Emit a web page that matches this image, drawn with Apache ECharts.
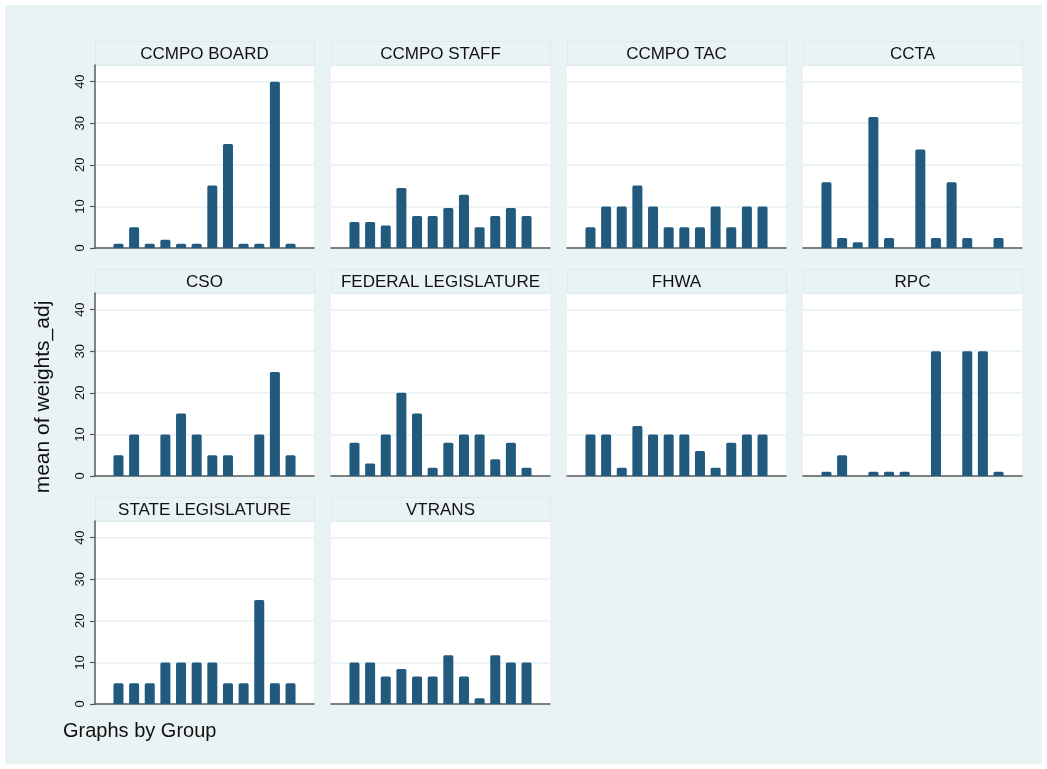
<!DOCTYPE html>
<html>
<head>
<meta charset="utf-8">
<script src="https://cdn.jsdelivr.net/npm/echarts@6/dist/echarts.min.js"></script>
<style>
  html, body { margin: 0; padding: 0; background: #fff; }
  #chart { position: absolute; left: 5px; top: 5px; width: 1037px; height: 759px; }
</style>
</head>
<body>
<div id="chart"></div>
<script>
// bar positions 1..12 in every panel (null = no bar)
const categories = [1, 2, 3, 4, 5, 6, 7, 8, 9, 10, 11, 12];
const groups = ['CCMPO BOARD', 'CCMPO STAFF', 'CCMPO TAC', 'CCTA', 'CSO', 'FEDERAL LEGISLATURE',
  'FHWA', 'RPC', 'STATE LEGISLATURE', 'VTRANS'];
const yTicks = [0, 10, 20, 30, 40];

const ccmpoBoard = [1, 5, 1, 2, 1, 1, 15, 25, 1, 1, 40, 1];
const ccmpoStaff = [6.25, 6.25, 5.4, 14.4, 7.7, 7.7, 9.6, 12.8, 5, 7.7, 9.6, 7.7];
const ccmpoTac = [5, 10, 10, 15, 10, 5, 5, 5, 10, 5, 10, 10];
const ccta = [15.8, 2.4, 1.4, 31.5, 2.4, null, 23.7, 2.4, 15.8, 2.4, null, 2.4];
const cso = [5, 10, null, 10, 15, 10, 5, 5, null, 10, 25, 5];
const federalLeg = [8, 3, 10, 20, 15, 2, 8, 10, 10, 4, 8, 2];
const fhwa = [10, 10, 2, 12, 10, 10, 10, 6, 2, 8, 10, 10];
const rpc = [1, 5, null, 1, 1, 1, null, 30, null, 30, 30, 1];
const stateLeg = [5, 5, 5, 10, 10, 10, 10, 5, 5, 25, 5, 5];
const vtrans = [10, 10, 6.6, 8.4, 6.6, 6.6, 11.7, 6.6, 1.4, 11.7, 10, 10];

const seriesValues = [ccmpoBoard, ccmpoStaff, ccmpoTac, ccta, cso, federalLeg, fhwa, rpc, stateLeg, vtrans];

const chart = echarts.init(document.getElementById('chart'));
const font = '"Liberation Sans", Arial, sans-serif';

const grids = [], xAxes = [], yAxes = [], series = [], graphics = [];
const panelW = 219, panelH = 183, headH = 24;

groups.forEach(function (name, i) {
  const col = i % 4, row = Math.floor(i / 4);
  const left = 90 + 236 * col;
  const top = 60 + 228 * row;
  const firstCol = col === 0;

  grids.push({
    left: left, top: top, width: panelW, height: panelH,
    show: true, backgroundColor: '#ffffff', borderWidth: 0
  });
  xAxes.push({
    gridIndex: i, type: 'value', min: -0.5, max: 13.5,
    axisLine: { show: true, onZero: false, lineStyle: { color: '#5a5a5a', width: 1.5 } },
    axisTick: { show: false }, axisLabel: { show: false }, splitLine: { show: false }
  });
  yAxes.push({
    gridIndex: i, type: 'value', min: 0, max: 44, interval: 10,
    axisLine: { show: firstCol, onZero: false, lineStyle: { color: '#5a5a5a', width: 1.5 } },
    axisTick: { show: firstCol, length: 5, customValues: yTicks, lineStyle: { color: '#5a5a5a', width: 1.2 } },
    axisLabel: {
      show: firstCol, rotate: 90, margin: 8, customValues: yTicks,
      color: '#111', fontSize: 13, fontFamily: font
    },
    splitLine: { show: true, lineStyle: { color: '#edf4f5', width: 2 } }
  });
  const data = [];
  seriesValues[i].forEach(function (v, k) {
    if (v !== null) data.push([categories[k], v]);
  });
  series.push({
    type: 'bar', xAxisIndex: i, yAxisIndex: i, data: data,
    barWidth: 10, silent: true,
    itemStyle: { color: '#215a7d', borderRadius: [1.5, 1.5, 0, 0] }
  });
  // panel header strip
  graphics.push({
    type: 'rect', left: left, top: top - headH,
    shape: { width: panelW, height: headH },
    style: { fill: '#e9f2f4', stroke: '#dfe9ec', lineWidth: 1 }
  });
  graphics.push({
    type: 'text', x: left + panelW / 2, y: top - headH / 2 + 1,
    style: {
      text: name, fill: '#111', font: '17px ' + font,
      textAlign: 'center', textVerticalAlign: 'middle'
    }
  });
});

graphics.push({
  type: 'text', x: 38, y: 392, rotation: Math.PI / 2,
  style: {
    text: 'mean of weights_adj', fill: '#111', font: '21px ' + font,
    textAlign: 'center', textVerticalAlign: 'middle'
  }
});
graphics.push({
  type: 'text', x: 58, y: 726,
  style: {
    text: 'Graphs by Group', fill: '#111', font: '20px ' + font,
    textAlign: 'left', textVerticalAlign: 'middle'
  }
});

chart.setOption({
  backgroundColor: '#eaf3f3',
  animation: false,
  grid: grids,
  xAxis: xAxes,
  yAxis: yAxes,
  series: series,
  graphic: graphics
});
</script>
</body>
</html>
